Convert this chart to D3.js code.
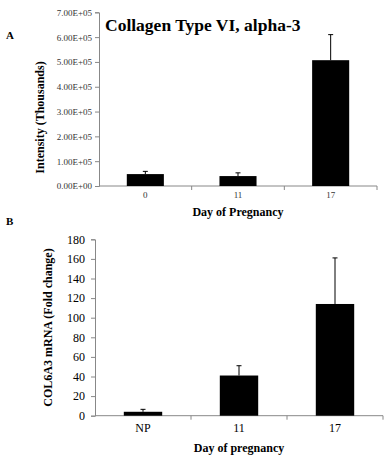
<!DOCTYPE html>
<html><head><meta charset="utf-8">
<script src="https://cdn.jsdelivr.net/npm/d3@7"></script>
<style>body{margin:0;background:#fff}svg{display:block}text{font-family:"Liberation Serif","Times New Roman",serif}</style>
</head><body>
<svg id="c" width="389" height="460"></svg>
<script>
// Panel A data
const catsA = ["0", "11", "17"];
const valsA = [48000, 40000, 507000];
const errA = [11000, 13000, 103000];
const ticksA = [0, 100000, 200000, 300000, 400000, 500000, 600000, 700000];
// Panel B data
const catsB = ["NP", "11", "17"];
const valsB = [4, 41, 114];
const errB = [2.5, 10, 47];
const ticksB = [0, 20, 40, 60, 80, 100, 120, 140, 160, 180];

const svg = d3.select("#c");
const axisCol = "#888";

function sci(d) {
  if (d === 0) return "0.00E+00";
  const e = Math.floor(Math.log10(d));
  const m = d / Math.pow(10, e);
  return m.toFixed(2) + "E+" + String(e).padStart(2, "0");
}

function panel(o) {
  const g = svg.append("g");
  const x = d3.scaleBand().domain(o.cats).range([o.x0, o.x1]).paddingInner(0.6).paddingOuter(0.3);
  const y = d3.scaleLinear().domain([0, o.ymax]).range([o.y0, o.y1]);
  // y axis
  const ya = d3.axisLeft(y).tickValues(o.ticks).tickSize(4).tickPadding(o.tickPad).tickFormat(o.fmt);
  const yg = g.append("g").attr("transform", `translate(${o.x0},0)`).call(ya);
  yg.select(".domain").attr("stroke", axisCol);
  yg.selectAll(".tick line").attr("stroke", axisCol);
  yg.selectAll(".tick text").attr("font-size", o.yfs).attr("fill", o.tcol).attr("font-family", '"Liberation Serif",serif');
  // x axis
  const step = x.step();
  g.append("line").attr("x1", o.x0).attr("x2", o.x1).attr("y1", o.y0).attr("y2", o.y0).attr("stroke", axisCol);
  for (let i = 1; i <= o.cats.length; i++) {
    const xx = o.x0 + i * step;
    g.append("line").attr("x1", xx).attr("x2", xx).attr("y1", o.y0).attr("y2", o.y0 + 4).attr("stroke", axisCol);
  }
  g.selectAll(".xl").data(o.cats).join("text")
    .attr("x", d => x(d) + x.bandwidth() / 2).attr("y", o.xly)
    .attr("text-anchor", "middle").attr("font-size", o.xfs).attr("fill", o.tcol).text(d => d);
  // bars
  g.selectAll(".bar").data(o.vals).join("rect")
    .attr("x", (d, i) => x(o.cats[i])).attr("width", x.bandwidth())
    .attr("y", d => y(d)).attr("height", d => o.y0 - y(d)).attr("fill", "#000");
  // error bars
  const cw = 2.5;
  o.vals.forEach((v, i) => {
    const cx = x(o.cats[i]) + x.bandwidth() / 2;
    g.append("line").attr("x1", cx).attr("x2", cx).attr("y1", y(v)).attr("y2", y(v + o.err[i])).attr("stroke", "#000").attr("stroke-width", 1);
    g.append("line").attr("x1", cx - cw).attr("x2", cx + cw).attr("y1", y(v + o.err[i])).attr("y2", y(v + o.err[i])).attr("stroke", "#000").attr("stroke-width", 1);
  });
  // titles
  g.append("text").attr("x", (o.x0 + o.x1) / 2).attr("y", o.xty).attr("text-anchor", "middle")
    .attr("font-size", 12).attr("font-weight", "bold").text(o.xtitle);
  g.append("text").attr("transform", `translate(${o.ytx},${o.yty}) rotate(-90)`).attr("text-anchor", "middle")
    .attr("font-size", o.ytfs).attr("font-weight", "bold").text(o.ytitle);
}

panel({cats: catsA, vals: valsA, err: errA, ticks: ticksA, ymax: 700000,
  x0: 99, x1: 377, y0: 186, y1: 12.3, fmt: sci, yfs: 9, xfs: 9, tickPad: 3, tcol: "#333",
  xly: 198, xty: 216, xtitle: "Day of Pregnancy", ytitle: "Intensity (Thousands)", ytx: 44, yty: 117.5, ytfs: 12});
panel({cats: catsB, vals: valsB, err: errB, ticks: ticksB, ymax: 180,
  x0: 95, x1: 383, y0: 415.7, y1: 239.3, fmt: d => d, yfs: 12, xfs: 12, tickPad: 6, tcol: "#000",
  xly: 432, xty: 452, xtitle: "Day of pregnancy", ytitle: "COL6A3 mRNA (Fold change)", ytx: 51.5, yty: 327.5, ytfs: 12});

svg.append("text").attr("x", 105).attr("y", 31).attr("font-size", 17.5).attr("font-weight", "bold").text("Collagen Type VI, alpha-3");
svg.append("text").attr("x", 6).attr("y", 38.5).attr("font-size", 11).attr("font-weight", "bold").text("A");
svg.append("text").attr("x", 6).attr("y", 225).attr("font-size", 11).attr("font-weight", "bold").text("B");
</script>
</body></html>
